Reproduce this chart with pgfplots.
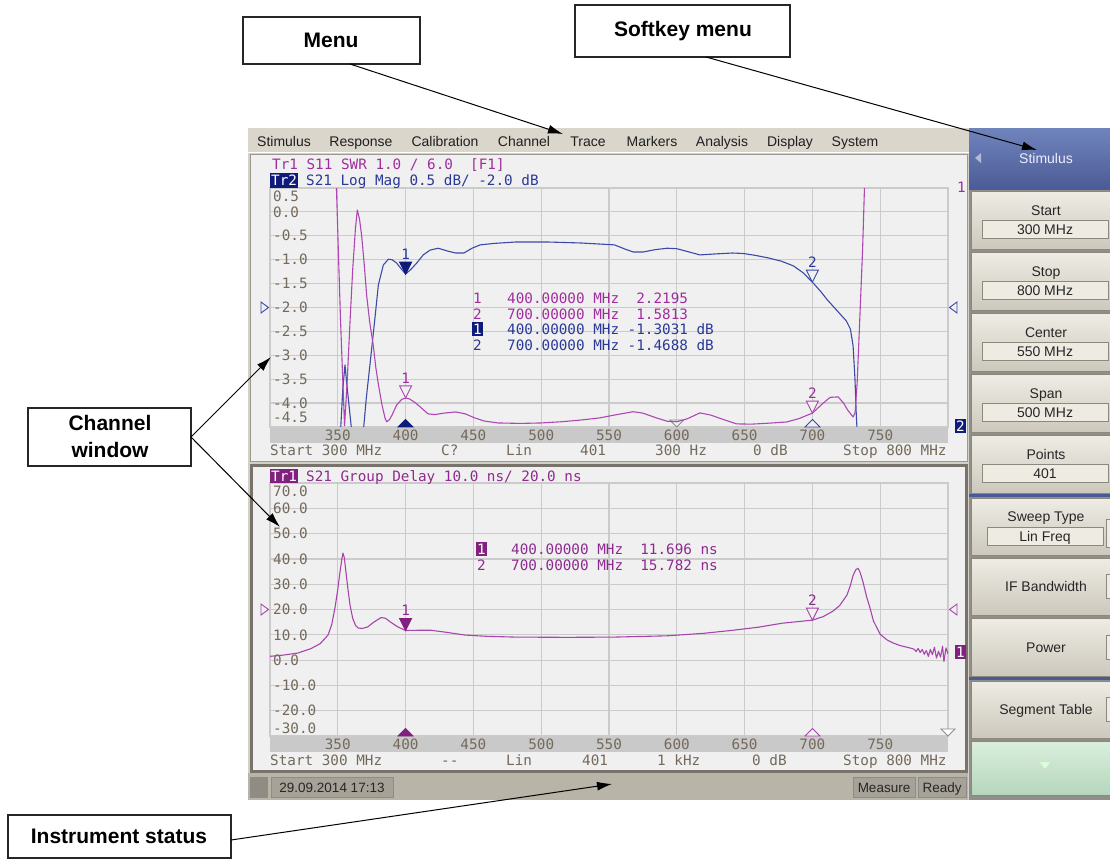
\documentclass[border=0pt]{standalone}
\usepackage{fontspec}
\setmainfont{Liberation Sans}
\newfontfamily\vnamono{DejaVu Sans Mono}
\usepackage{pgfplots}
\usepackage{pgfplotstable}
\pgfplotsset{compat=1.18}
\usetikzlibrary{arrows.meta}

\definecolor{scrbg}{HTML}{F0F0F0}
\definecolor{gridc}{HTML}{CBCBCB}
\definecolor{bandc}{HTML}{C9C9C9}
\definecolor{ticktxt}{HTML}{74695A}
\definecolor{swr}{HTML}{AE46B4}
\definecolor{swrtxt}{HTML}{9E2E9E}
\definecolor{sdb}{HTML}{3B4AA6}
\definecolor{sdbtxt}{HTML}{2A3898}
\definecolor{navy}{HTML}{0F1B7A}
\definecolor{gd}{HTML}{A646AC}
\definecolor{gdtxt}{HTML}{8E2A90}
\definecolor{plum}{HTML}{82207F}
\definecolor{menubg}{HTML}{DAD6CB}
\definecolor{framec}{HTML}{D4D0C8}
\definecolor{winedge}{HTML}{9C988E}
\definecolor{winact}{HTML}{77736A}
\definecolor{statbg}{HTML}{B8B4A8}
\definecolor{keytop}{HTML}{EEECE4}
\definecolor{keybot}{HTML}{CCC8BC}
\definecolor{keyedge}{HTML}{8C887E}
\definecolor{valbg}{HTML}{EEEBE2}
\definecolor{titletop}{HTML}{7084BC}
\definecolor{titlebot}{HTML}{4B5B97}
\definecolor{sepblue}{HTML}{4A5A98}
\definecolor{greentop}{HTML}{DAEFDD}
\definecolor{greenbot}{HTML}{B6D6BC}

\newcommand\vnafont{\vnamono\fontsize{14.3pt}{16pt}\selectfont}
\newcommand\uifont{\fontsize{14pt}{16pt}\selectfont}
\newcommand\calfont{\bfseries\fontsize{21pt}{24pt}\selectfont}

% VNA marker glyphs
\pgfdeclareplotmark{mdown}{%
  \pgfpathmoveto{\pgfqpoint{0pt}{0pt}}%
  \pgfpathlineto{\pgfqpoint{-6pt}{12pt}}%
  \pgfpathlineto{\pgfqpoint{6pt}{12pt}}%
  \pgfpathclose\pgfusepathqfillstroke}
\pgfdeclareplotmark{mup}{%
  \pgfpathmoveto{\pgfqpoint{-7.5pt}{0pt}}%
  \pgfpathlineto{\pgfqpoint{7.5pt}{0pt}}%
  \pgfpathlineto{\pgfqpoint{0pt}{7.5pt}}%
  \pgfpathclose\pgfusepathqfillstroke}
\pgfdeclareplotmark{msdown}{%
  \pgfpathmoveto{\pgfqpoint{0pt}{0pt}}%
  \pgfpathlineto{\pgfqpoint{-7pt}{7pt}}%
  \pgfpathlineto{\pgfqpoint{7pt}{7pt}}%
  \pgfpathclose\pgfusepathqfillstroke}
\pgfdeclareplotmark{mright}{%
  \pgfpathmoveto{\pgfqpoint{-1.5pt}{0pt}}%
  \pgfpathlineto{\pgfqpoint{-9pt}{5.5pt}}%
  \pgfpathlineto{\pgfqpoint{-9pt}{-5.5pt}}%
  \pgfpathclose\pgfusepathqfillstroke}
\pgfdeclareplotmark{mleft}{%
  \pgfpathmoveto{\pgfqpoint{1.5pt}{0pt}}%
  \pgfpathlineto{\pgfqpoint{9pt}{5.5pt}}%
  \pgfpathlineto{\pgfqpoint{9pt}{-5.5pt}}%
  \pgfpathclose\pgfusepathqfillstroke}

% S21 log mag (dB)
\pgfplotstableread{
f v
300 -15
349 -15
352 -4.6
353.7 -3.7
355.3 -3.2
357 -3.7
360.3 -4.6
362 -15
366 -15
368.8 -4.6
371 -3.9
373.7 -3.2
377.4 -2.22
379.9 -1.53
383.6 -1.11
387.3 -0.99
390 -1.0
393.4 -1.07
397 -1.2
400 -1.30
404 -1.2
408.2 -1.07
413 -0.9
418 -0.8
424 -0.76
431 -0.82
437 -0.86
443 -0.86
449 -0.76
455 -0.69
465 -0.66
481 -0.63
505 -0.63
529 -0.65
554 -0.69
562 -0.78
568 -0.84
575 -0.84
584 -0.79
593 -0.76
600 -0.77
608 -0.83
617 -0.90
628 -0.88
641 -0.86
649 -0.87
658 -0.91
667 -0.96
677 -1.03
686 -1.13
693 -1.27
700 -1.47
706 -1.66
711 -1.84
718 -2.06
725 -2.28
728 -2.45
730 -2.8
731.4 -3.5
732.3 -4.2
733 -4.6
734 -8
740 -15
800 -15
}\sdbdata

% S11 SWR
\pgfplotstableread{
f v
300 20
347 20
348.9 11.2
350.5 8.2
352 5.5
353.5 3.2
355 1.05
357 3.0
359 5.4
361 7.6
363 9.3
364.4 10.08
366 9.7
367.6 9.0
369.5 7.8
371.3 6.5
373.5 5.4
376.2 4.4
378 3.5
380 2.76
382.5 1.95
384.8 1.38
386 1.22
388 1.3
390 1.5
393.4 1.92
397 2.15
400 2.22
403 2.17
407 2.02
410.6 1.85
416.5 1.55
421.7 1.52
428 1.58
437 1.63
444 1.55
451 1.38
458 1.25
468 1.17
485 1.15
500 1.17
515 1.22
529 1.29
543 1.38
554 1.5
567.7 1.64
575 1.58
585 1.38
593 1.24
600 1.22
608 1.35
617 1.59
625 1.5
635 1.3
644 1.13
655 1.12
665 1.15
681 1.21
690 1.35
700 1.58
707 1.95
713 2.24
719 2.26
723 2.0
726 1.71
730 1.42
731.5 1.6
733 2.84
735 5.6
737 8.4
738.5 11.2
739.5 20
800 20
}\swrdata

% S21 group delay (ns)
\pgfplotstableread{
f v
300 1.5
310 2.0
320.6 2.8
330 4.5
337 6.5
342.8 9.9
345.5 14
347.9 20.6
350 28
351.6 34.8
353 40
353.8 42.3
354.8 40.5
356 34.8
357.5 28
359 21.8
361 16.5
363 13.8
364.9 12.7
368 12.5
372 13.1
376 14.8
381.8 16.8
385 16.6
389 15
394 13.2
400 11.7
410 11.8
418.7 11.8
430 11
443.8 9.9
460 9.4
480.7 9.1
520 9.0
554 9.1
592.8 9.6
620 10.6
641.4 11.8
660 13
678 14.6
700 15.8
708 17.2
715 19.3
720 21.5
725.5 25.7
728 29.5
730 33.5
732 35.7
733.6 36.3
735 35
737.3 30.9
740 25
742.5 20.6
745 15.5
750 10.2
755 8
759.4 6.8
765 5.7
772 4.8
775 4.3
776.5 3.4
778 4.6
779.5 3.0
781 4.2
782.5 2.3
784 3.8
785.5 1.5
787 4.2
788.5 2.2
790 5.1
791.5 0.8
793 3.5
794.5 1.2
796 5.5
797 -0.5
798.5 4.8
800 2.5
}\gddata

\pgfplotsset{
  vnabox/.style={
    scale only axis, width=678pt,
    xmin=300, xmax=800,
    clip marker paths=false,
  },
  vnagrid/.style={
    vnabox,
    xtick={300,350,...,800},
    xticklabels={,350,400,450,500,550,600,650,700,750,},
    grid=major,
    major grid style={gridc, line width=1.2pt},
    axis line style={gridc, line width=1.2pt},
    major tick length=0pt,
    tick label style={font=\vnafont, text=ticktxt, inner sep=0pt,
      text height=10.4pt, text depth=0pt},
    xticklabel style={anchor=center, yshift=-8pt},
    yticklabel style={anchor=west, xshift=3pt},
  },
  trace/.style={line width=1.1pt, mark=none, line join=round},
  mk/.style n args={3}{only marks, mark=#1,
    mark options={draw=#2, fill=#3, line width=0.9pt}},
  mklab/.style n args={2}{nodes near coords={#1},
    every node near coord/.append style={anchor=center, yshift=20pt,
      font=\vnafont, text=#2, inner sep=0pt}},
}

\tikzset{
  vt/.style={font=\vnafont, inner sep=0pt, text height=10.4pt, text depth=0pt, anchor=west},
  ui/.style={font=\uifont, inner sep=0pt, text height=10pt, text depth=0pt, anchor=center},
  callout/.style={draw=black!85, line width=1.3pt, fill=white},
  callarrow/.style={-{Latex[length=15pt,width=9pt]}, line width=1pt, black},
}

\begin{document}
\begin{tikzpicture}
\path[use as bounding box] (0pt,0pt) rectangle (1110pt,-859pt);
\begin{scope}[x=1pt,y=-1pt]
  \fill[white] (0,0) rectangle (1110,859);
  % instrument screen
  \fill[framec] (248,128) rectangle (970,800);
  \fill[menubg] (248,128) rectangle (970,152);
  \draw[white] (248,152.5) -- (970,152.5);
  \draw[fill=scrbg, draw=winedge, line width=1pt] (250,154) rectangle (967,461);
  \draw[fill=scrbg, draw=winact, line width=3pt] (251,465.5) rectangle (966,771);
  \fill[bandc] (270,427) rectangle (948,443);
  \fill[bandc] (270,737) rectangle (948,752);
\end{scope}

% ---- channel 1: S21 log mag ----
\begin{axis}[vnagrid, at={(270pt,-188pt)}, anchor=north west, height=239pt,
  ymin=-4.5, ymax=0.5,
  ytick={-4.5,-4,-3.5,-3,-2.5,-2,-1.5,-1,-0.5,0,0.5},
  yticklabels={\raisebox{10pt}{-4.5},-4.0,-3.5,-3.0,-2.5,-2.0,-1.5,-1.0,-0.5,0.0,\raisebox{-8pt}{0.5}}]
  \addplot[trace, sdb] table {\sdbdata};
  \addplot[mk={mdown}{navy}{navy}, mklab={1}{sdbtxt}] coordinates {(400,-1.3031)};
  \addplot[mk={mdown}{sdb}{scrbg}, mklab={2}{sdbtxt}] coordinates {(700,-1.4688)};
  \addplot[mk={mup}{navy}{navy}] coordinates {(400,-4.5)};
  \addplot[mk={mup}{sdb}{scrbg}] coordinates {(700,-4.5)};
  \addplot[mk={msdown}{black!45}{scrbg}] coordinates {(600,-4.5)};
  \addplot[mk={mright}{sdb}{scrbg}] coordinates {(300,-2)};
  \addplot[mk={mleft}{sdb}{scrbg}] coordinates {(800,-2)};
\end{axis}

% ---- channel 1: S11 SWR (same box) ----
\begin{axis}[vnabox, at={(270pt,-188pt)}, anchor=north west, height=239pt,
  ymin=1, ymax=11, hide axis]
  \addplot[trace, swr] table {\swrdata};
  \addplot[mk={mdown}{swr}{scrbg}, mklab={1}{swrtxt}] coordinates {(400,2.2195)};
  \addplot[mk={mdown}{swr}{scrbg}, mklab={2}{swrtxt}] coordinates {(700,1.5813)};
\end{axis}

% ---- channel 2: S21 group delay ----
\begin{axis}[vnagrid, at={(270pt,-483pt)}, anchor=north west, height=253pt,
  ymin=-30, ymax=70,
  ytick={-30,-20,...,70},
  yticklabels={\raisebox{8pt}{-30.0},-20.0,-10.0,0.0,10.0,20.0,30.0,40.0,50.0,60.0,\raisebox{-8pt}{70.0}}]
  \addplot[trace, gd] table {\gddata};
  \addplot[mk={mdown}{plum}{plum}, mklab={1}{gdtxt}] coordinates {(400,11.696)};
  \addplot[mk={mdown}{gd}{scrbg}, mklab={2}{gdtxt}] coordinates {(700,15.782)};
  \addplot[mk={mup}{plum}{plum}] coordinates {(400,-30)};
  \addplot[mk={mup}{gd}{scrbg}] coordinates {(700,-30)};
  \addplot[mk={msdown}{black!45}{white}] coordinates {(800,-30)};
  \addplot[mk={mright}{gd}{scrbg}] coordinates {(300,20)};
  \addplot[mk={mleft}{gd}{scrbg}] coordinates {(800,20)};
\end{axis}

\begin{scope}[x=1pt,y=-1pt]
  % menu bar
  \foreach \t/\x in {Stimulus/284,Response/361,Calibration/445,Channel/524,Trace/588,
                     Markers/652,Analysis/722,Display/790,System/855}
    \node[ui, text=black!88] at (\x,141) {\t};

  % channel 1 texts
  \node[vt, text=swrtxt] at (272,164) {Tr1 S11 SWR 1.0 / 6.0~ [F1]};
  \node[vt, fill=navy, text=white, inner xsep=1pt, inner ysep=2.3pt] at (270,180) {Tr2};
  \node[vt, text=sdbtxt] at (306,180) {S21 Log Mag 0.5 dB/ -2.0 dB};
  \node[vt, text=swrtxt] at (473,298) {1};
  \node[vt, text=swrtxt] at (507,298) {400.00000 MHz~ 2.2195};
  \node[vt, text=swrtxt] at (473,314) {2};
  \node[vt, text=swrtxt] at (507,314) {700.00000 MHz~ 1.5813};
  \node[vt, fill=navy, text=white, inner xsep=1pt, inner ysep=1.5pt] at (472,329) {1};
  \node[vt, text=sdbtxt] at (507,329) {400.00000 MHz -1.3031 dB};
  \node[vt, text=sdbtxt] at (473,345) {2};
  \node[vt, text=sdbtxt] at (507,345) {700.00000 MHz -1.4688 dB};
  \node[vt, text=swrtxt] at (957,187) {1};
  \node[vt, fill=navy, text=white, inner xsep=1pt, inner ysep=1.5pt] at (955,426) {2};
  \foreach \t/\x in {Start 300 MHz/270,C?/441,Lin/506,401/580,300 Hz/655,0 dB/753,Stop 800 MHz/843}
    \node[vt, text=ticktxt] at (\x,450) {\t};

  % channel 2 texts
  \node[vt, fill=plum, text=white, inner xsep=1pt, inner ysep=1.5pt] at (270,476) {Tr1};
  \node[vt, text=gdtxt] at (306,476) {S21 Group Delay 10.0 ns/ 20.0 ns};
  \node[vt, fill=plum, text=white, inner xsep=1pt, inner ysep=1.5pt] at (476,549) {1};
  \node[vt, text=gdtxt] at (511,549) {400.00000 MHz~ 11.696 ns};
  \node[vt, text=gdtxt] at (477,565) {2};
  \node[vt, text=gdtxt] at (511,565) {700.00000 MHz~ 15.782 ns};
  \node[vt, fill=plum, text=white, inner xsep=1pt, inner ysep=1.5pt] at (955,652) {1};
  \foreach \t/\x in {Start 300 MHz/270,--/441,Lin/506,401/582,1 kHz/657,0 dB/752,Stop 800 MHz/843}
    \node[vt, text=ticktxt] at (\x,760) {\t};

  % status bar
  \fill[statbg] (248,773) rectangle (968,800);
  \draw[fill=black!22!statbg, draw=black!45] (250.5,777) rectangle (267.5,797);
  \draw[fill=black!10!statbg, draw=black!45] (271,777) rectangle (393,797);
  \node[ui, font=\fontsize{13.5pt}{15pt}\selectfont, text=black!85] at (332,787) {29.09.2014 17:13};
  \draw[fill=black!10!statbg, draw=black!45] (853,777) rectangle (915,797);
  \node[ui, font=\fontsize{13.5pt}{15pt}\selectfont, text=black!85] at (884,787) {Measure};
  \draw[fill=black!10!statbg, draw=black!45] (918,777) rectangle (966,797);
  \node[ui, font=\fontsize{13.5pt}{15pt}\selectfont, text=black!85] at (942,787) {Ready};

  % softkey panel
  \fill[black!32!framec] (969,128) rectangle (1110,800);
  \shade[top color=titletop, bottom color=titlebot] (969,128) rectangle (1112,189);
  \node[ui, text=white!93!blue] at (1046,158) {Stimulus};
  \fill[titletop!55!white] (975,158) -- (981,153) -- (981,163) -- cycle;
  \foreach \ya/\yb/\t/\v in {191/249/Start/300 MHz, 252/310/Stop/800 MHz,
                             313/371/Center/550 MHz, 374/432/Span/500 MHz,
                             435/493/Points/401} {
    \shade[top color=keytop, bottom color=keybot, draw=keyedge] (971,\ya) rectangle (1112,\yb);
    \node[ui, text=black!85] at (1046,\ya+19) {\t};
    \draw[fill=valbg, draw=keyedge] (982,\ya+29) rectangle (1108,\ya+47);
    \node[ui, text=black!85] at (1045,\ya+38) {\v};
  }
  \fill[sepblue] (969,494) rectangle (1110,497);
  \shade[top color=keytop, bottom color=keybot, draw=keyedge] (971,498) rectangle (1112,555);
  \node[ui, text=black!85] at (1046,516) {Sweep Type};
  \draw[fill=valbg, draw=keyedge] (987,527) rectangle (1103,545);
  \node[ui, text=black!85] at (1045,536) {Lin Freq};
  \draw[fill=valbg, draw=keyedge] (1106,519) rectangle (1116,547);
  \foreach \ya/\yb/\t in {558/615/IF Bandwidth, 618/676/Power} {
    \shade[top color=keytop, bottom color=keybot, draw=keyedge] (971,\ya) rectangle (1112,\yb);
    \node[ui, text=black!85] at (1046,{(\ya+\yb)/2}) {\t};
    \draw[fill=valbg, draw=keyedge] (1106,{(\ya+\yb)/2-12}) rectangle (1116,{(\ya+\yb)/2+12});
  }
  \fill[sepblue] (969,677) rectangle (1110,680);
  \shade[top color=keytop, bottom color=keybot, draw=keyedge] (971,681) rectangle (1112,738);
  \node[ui, text=black!85] at (1046,709) {Segment Table};
  \draw[fill=valbg, draw=keyedge] (1106,697) rectangle (1116,721);
  \shade[top color=greentop, bottom color=greenbot, draw=keyedge] (971,741) rectangle (1112,795);
  \draw[white!70!gray, fill=white!85!green] (1039,762) -- (1051,762) -- (1045,769) -- cycle;

  % callouts
  \draw[callout] (243,17) rectangle (420,64);
  \node[font=\calfont] at (331,40) {Menu};
  \draw[callarrow] (350,64) -- (563,134);
  \draw[callout] (575,5) rectangle (790,57);
  \node[font=\calfont] at (683,31) {Softkey menu};
  \draw[callarrow] (706,57) -- (1037,150);
  \draw[callout] (28,408) rectangle (191,466);
  \node[font=\calfont, inner sep=0pt, text height=15pt, text depth=0pt] at (110,423) {Channel};
  \node[font=\calfont, inner sep=0pt, text height=15pt, text depth=0pt] at (110,450) {window};
  \draw[callarrow] (191,437) -- (271,357);
  \draw[callarrow] (191,437) -- (280,527);
  \draw[callout] (8,815) rectangle (231,858);
  \node[font=\calfont] at (119,836) {Instrument status};
  \draw[callarrow] (231,840) -- (612,784);
\end{scope}
\end{tikzpicture}
\end{document}
